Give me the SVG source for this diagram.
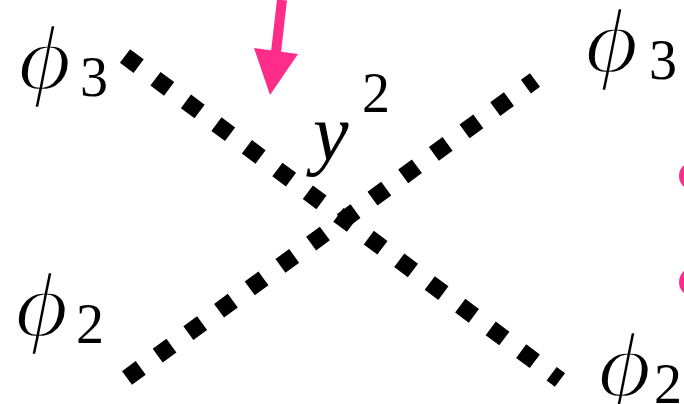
<svg xmlns="http://www.w3.org/2000/svg" width="684" height="404" viewBox="0 0 684 404">
<style>
.ln{stroke:#000;stroke-width:17;stroke-dasharray:17 21;fill:none}
.m{font-family:"Liberation Serif",serif;font-style:italic;font-size:80px;fill:#000}
.p{font-size:90px;stroke:#fff;stroke-width:2.5px}
.s{font-family:"Liberation Serif",serif;font-size:56px;fill:#000}
.pk{fill:#ff2d8a}
</style>
<rect width="684" height="404" fill="#fff"/>
<g id="connectors">
<line class="ln" x1="125" y1="56" x2="560" y2="380"/>
<line class="ln" x1="127" y1="378" x2="535" y2="80"/>
</g>
<g id="arrow">
<line x1="282" y1="0" x2="276" y2="52" stroke="#ff2d8a" stroke-width="10"/>
<polygon class="pk" points="254,48 298,54 270,95"/>
</g>
<g id="dots">
<circle class="pk" cx="693" cy="176" r="14"/>
<circle class="pk" cx="694" cy="282" r="15"/>
</g>
<g id="phi3-left"><text class="m p" transform="translate(18,89) scale(1.15,1)">ϕ</text><text class="s" x="80" y="96">3</text></g>
<g id="phi3-right"><text class="m p" transform="translate(585,72) scale(1.15,1)">ϕ</text><text class="s" x="649" y="79">3</text></g>
<g id="phi2-left"><text class="m p" transform="translate(15,336) scale(1.15,1)">ϕ</text><text class="s" x="76" y="343">2</text></g>
<g id="phi2-right"><text class="m p" transform="translate(598,396) scale(1.15,1)">ϕ</text><text class="s" x="654" y="403">2</text></g>
<g id="y2"><text class="m" x="313" y="160">y</text><text class="s" x="362" y="112">2</text></g>
</svg>
